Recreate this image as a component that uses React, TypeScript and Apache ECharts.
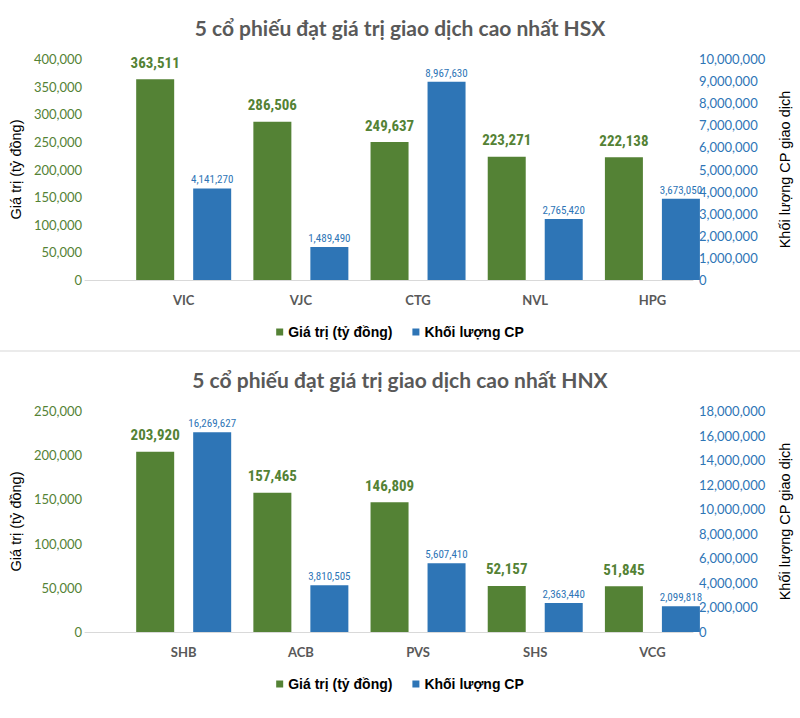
import React, { useEffect, useRef } from "react";
import * as echarts from "echarts";

const categoriesHSX = ["VIC", "VJC", "CTG", "NVL", "HPG"];
const valueHSX = [363511, 286506, 249637, 223271, 222138];
const volumeHSX = [4141270, 1489490, 8967630, 2765420, 3673050];

const categoriesHNX = ["SHB", "ACB", "PVS", "SHS", "VCG"];
const valueHNX = [203920, 157465, 146809, 52157, 51845];
const volumeHNX = [16269627, 3810505, 5607410, 2363440, 2099818];

const leftAxisHSX = { max: 400000, step: 50000 };
const rightAxisHSX = { max: 10000000, step: 1000000 };
const leftAxisHNX = { max: 250000, step: 50000 };
const rightAxisHNX = { max: 18000000, step: 2000000 };

const titleHSX = "5 cổ phiếu đạt giá trị giao dịch cao nhất HSX";
const titleHNX = "5 cổ phiếu đạt giá trị giao dịch cao nhất HNX";
const seriesNames = ["Giá trị (tỷ đồng)", "Khối lượng CP"];
const leftAxisName = "Giá trị (tỷ đồng)";
const rightAxisName = "Khối lượng CP giao dịch";

const GREEN = "#548235";
const BLUE = "#2E75B6";
const GRAY = "#595959";
const NARROW = "'Liberation Sans Narrow', 'Arial Narrow', 'Roboto Condensed', sans-serif";
const ARIAL = "'Liberation Sans', Arial, sans-serif";
const LATO = "Lato, 'Open Sans', sans-serif";

const fmt = (v: number) => v.toLocaleString("en-US");

function buildOption() {
  const panels = [
    { top: 59, height: 221, cats: categoriesHSX, val: valueHSX, vol: volumeHSX, l: leftAxisHSX, r: rightAxisHSX },
    { top: 411, height: 221, cats: categoriesHNX, val: valueHNX, vol: volumeHNX, l: leftAxisHNX, r: rightAxisHNX },
  ];
  const grid: any[] = [];
  const xAxis: any[] = [];
  const yAxis: any[] = [];
  const series: any[] = [];
  panels.forEach((p, i) => {
    const gMain = i * 2;
    const gLine = i * 2 + 1;
    grid.push({ left: 114, width: 606, top: p.top, height: p.height, containLabel: false });
    grid.push({ left: 85, width: 608, top: p.top, height: p.height, containLabel: false });
    xAxis.push({
      type: "category",
      gridIndex: gMain,
      data: p.cats,
      axisLine: { show: false },
      axisTick: { show: false },
      axisLabel: { color: GRAY, fontFamily: LATO, fontWeight: "bold", fontSize: 13, margin: 13 },
    });
    xAxis.push({
      type: "category",
      gridIndex: gLine,
      data: p.cats,
      axisLine: { show: true, onZero: false, lineStyle: { color: "#D9D9D9", width: 1 } },
      axisTick: { show: false },
      axisLabel: { show: false },
    });
    const yBase = yAxis.length;
    yAxis.push({
      type: "value",
      gridIndex: gMain,
      position: "left",
      min: 0,
      max: p.l.max,
      interval: p.l.step,
      splitLine: { show: false },
      axisLine: { show: false },
      axisTick: { show: false },
      axisLabel: { color: GREEN, fontFamily: LATO, fontSize: 13, margin: 43, formatter: (v: number) => fmt(v) },
      name: leftAxisName,
      nameLocation: "middle",
      nameRotate: 90,
      nameGap: 102,
      nameTextStyle: { color: "#000", fontFamily: ARIAL, fontSize: 14.5 },
    });
    yAxis.push({
      type: "value",
      gridIndex: gMain,
      position: "right",
      min: 0,
      max: p.r.max,
      interval: p.r.step,
      splitLine: { show: false },
      axisLine: { show: false },
      axisTick: { show: false },
      axisLabel: { color: BLUE, fontFamily: LATO, fontSize: 13, margin: -12, formatter: (v: number) => fmt(v) },
      name: rightAxisName,
      nameLocation: "middle",
      nameRotate: 90,
      nameGap: 66,
      nameTextStyle: { color: "#000", fontFamily: ARIAL, fontSize: 14.5 },
    });
    yAxis.push({ type: "value", gridIndex: gLine, show: false });
    series.push({
      type: "bar",
      name: seriesNames[0],
      xAxisIndex: gMain,
      yAxisIndex: yBase,
      data: p.val,
      barWidth: 38,
      barGap: "50%",
      itemStyle: { color: GREEN },
      label: {
        show: true,
        position: "top",
        distance: 9,
        color: GREEN,
        fontFamily: NARROW,
        fontWeight: "bold",
        fontSize: 15,
        formatter: (d: any) => fmt(d.value),
      },
    });
    series.push({
      type: "bar",
      name: seriesNames[1],
      xAxisIndex: gMain,
      yAxisIndex: yBase + 1,
      data: p.vol,
      barWidth: 38,
      barGap: "50%",
      itemStyle: { color: BLUE },
      label: {
        show: true,
        position: "top",
        distance: 3,
        color: BLUE,
        fontFamily: NARROW,
        fontSize: 11,
        formatter: (d: any) => fmt(d.value),
      },
    });
  });

  const titleStyle = { color: GRAY, fontFamily: LATO, fontWeight: "bold" as const, fontSize: 21 };
  const legendBase = {
    icon: "rect",
    itemWidth: 7,
    itemHeight: 7,
    itemGap: 20,
    left: "center",
    data: seriesNames,
    textStyle: { color: "#000", fontFamily: ARIAL, fontWeight: "bold" as const, fontSize: 14 },
    selectedMode: false,
  };

  return {
    animation: false,
    backgroundColor: "#fff",
    title: [
      { text: titleHSX, left: "center", top: 12, textStyle: titleStyle },
      { text: titleHNX, left: "center", top: 364, textStyle: titleStyle },
    ],
    legend: [
      { ...legendBase, top: 320 },
      { ...legendBase, top: 672 },
    ],
    graphic: [
      { type: "rect", shape: { x: 0, y: 350, width: 800, height: 2 }, style: { fill: "#EBEBEB" }, silent: true },
    ],
    grid,
    xAxis,
    yAxis,
    series,
  };
}

export default function App() {
  const ref = useRef<HTMLDivElement>(null);
  useEffect(() => {
    if (!ref.current) return;
    const chart = echarts.init(ref.current, undefined, { renderer: "svg" });
    chart.setOption(buildOption() as any);
    return () => chart.dispose();
  }, []);
  return (
    <div
      ref={ref}
      style={{ position: "absolute", left: 0, top: 0, width: 800, height: 718, background: "#fff" }}
    />
  );
}
